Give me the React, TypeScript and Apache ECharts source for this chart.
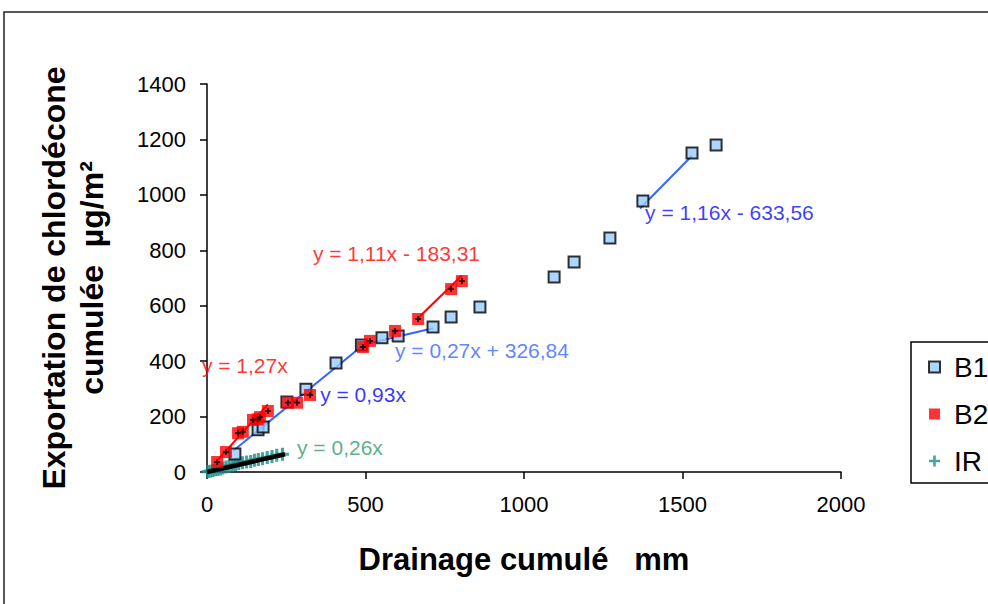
import React, { useEffect, useRef } from "react";
import * as echarts from "echarts";

// ---- data ----
const b1X = [88, 161, 177, 252, 312, 407, 487, 552, 603, 713, 770, 861, 1095, 1158, 1271, 1375, 1530, 1606];
const b1Y = [65, 152, 162, 253, 299, 393, 458, 484, 491, 523, 559, 595, 704, 758, 844, 978, 1151, 1180];

const b2X = [32, 60, 98, 113, 145, 160, 167, 192, 255, 284, 325, 492, 514, 593, 666, 770, 804];
const b2Y = [36, 72, 140, 145, 188, 190, 198, 220, 250, 250, 278, 451, 473, 509, 552, 660, 689];

const irX = [2, 10, 18, 25, 33, 42, 50, 60, 70, 80, 90, 100, 112, 125, 138, 150, 162, 175, 190, 205, 220, 238];
const irY = [1, 3, 5, 8, 9, 11, 14, 18, 21, 24, 27, 31, 33, 36, 38, 42, 45, 48, 52, 56, 60, 64];

// trendline endpoints [x, y]
const b1Trend1 = [[82, 76], [495, 460]];
const b1Trend2 = [[495, 460], [713, 519]];
const b1Trend3 = [[1366, 951], [1530, 1141]];
const b2Trend1 = [[32, 41], [192, 244]];
const b2Trend2 = [[666, 556], [804, 709]];
const irTrend = [[0, 0], [246, 64]];

// trendline equation labels: [x, y, text, color]
const eqLabels: [number, number, string, string][] = [
  [-16, 383, "y = 1,27x", "#ff0000"],
  [357, 278, "y = 0,93x", "#0000ff"],
  [284, 87, "y = 0,26x", "#339966"],
  [593, 440, "y = 0,27x + 326,84", "#3366ff"],
  [1382, 935, "y = 1,16x - 633,56", "#0a0aff"],
  [334, 787, "y = 1,11x - 183,31", "#ff0000"],
];

const xTicks = { min: 0, max: 2000, interval: 500 };
const yTicks = { min: 0, max: 1400, interval: 200 };

const zip = (xs: number[], ys: number[]) => xs.map((x, i) => [x, ys[i]]);

const FONT = "'Liberation Sans', Arial, Helvetica, sans-serif";
const PLUS = "path://M3.8,0H6.2V3.8H10V6.2H6.2V10H3.8V6.2H0V3.8H3.8Z";
const SMALLPLUS = "path://M3.5,0H6.5V3.5H10V6.5H6.5V10H3.5V6.5H0V3.5H3.5Z";

export default function App() {
  const ref = useRef<HTMLDivElement>(null);
  useEffect(() => {
    if (!ref.current) return;
    const chart = echarts.init(ref.current, undefined, { renderer: "svg" });
    const trendLine = (data: number[][], color: string, width: number) => ({
      type: "line",
      data,
      symbol: "none",
      lineStyle: { color, width },
      z: 3,
      silent: true,
    });
    chart.setOption({
      animation: false,
      backgroundColor: "#ffffff",
      textStyle: { fontFamily: FONT },
      grid: { left: 207, right: 147, top: 84, bottom: 132 },
      legend: {
        data: ["B1", "B2", "IR"],
        orient: "vertical",
        left: 911,
        top: 342,
        borderColor: "#000",
        borderWidth: 1.5,
        padding: [11, 20, 8, 17],
        itemGap: 19,
        itemWidth: 11,
        itemHeight: 11,
        textStyle: { fontSize: 28, color: "#000", fontFamily: FONT, padding: [0, 0, 0, 9] },
      },
      xAxis: {
        type: "value",
        ...xTicks,
        name: "Drainage cumulé   mm",
        nameLocation: "middle",
        nameGap: 72,
        nameTextStyle: { fontSize: 31, fontWeight: "bold", color: "#000", fontFamily: FONT },
        splitLine: { show: false },
        axisLine: { show: true, lineStyle: { color: "#000", width: 1.5 } },
        axisTick: { show: true, length: 7, lineStyle: { color: "#000", width: 1.5 } },
        axisLabel: {
          fontSize: 22,
          color: "#000",
          margin: 21,
          fontFamily: FONT,
          formatter: (v: number) => String(v),
        },
      },
      yAxis: {
        type: "value",
        ...yTicks,
        name: "Exportation de chlordécone\ncumulée  µg/m²",
        nameLocation: "middle",
        nameRotate: 90,
        nameGap: 96,
        nameTextStyle: {
          fontSize: 32,
          fontWeight: "bold",
          color: "#000",
          fontFamily: FONT,
          lineHeight: 38,
          align: "center",
        },
        splitLine: { show: false },
        axisLine: { show: true, lineStyle: { color: "#000", width: 1.5 } },
        axisTick: { show: true, length: 7, lineStyle: { color: "#000", width: 1.5 } },
        axisLabel: {
          fontSize: 22,
          color: "#000",
          margin: 21,
          fontFamily: FONT,
          formatter: (v: number) => String(v),
        },
      },
      graphic: [
        {
          type: "rect",
          shape: { x: 4, y: 12, width: 1200, height: 800 },
          style: { fill: "none", stroke: "#222", lineWidth: 1.5 },
          silent: true,
        },
      ],
      series: [
        trendLine(b1Trend1, "#3366ff", 2),
        trendLine(b1Trend2, "#3366ff", 2),
        trendLine(b1Trend3, "#3366ff", 2),
        trendLine(b2Trend1, "#ff0000", 2),
        trendLine(b2Trend2, "#ff0000", 2),
        {
          name: "IR",
          type: "scatter",
          data: zip(irX, irY),
          symbol: PLUS,
          symbolSize: 13,
          itemStyle: { color: "#168f8f" },
          clip: false,
          z: 2,
        },
        trendLine(irTrend, "#000000", 4.5),
        {
          name: "B1",
          type: "scatter",
          data: zip(b1X, b1Y),
          symbol: "rect",
          symbolSize: 11,
          itemStyle: { color: "#99ccff", borderColor: "#000", borderWidth: 2 },
          z: 4,
        },
        {
          name: "B2",
          type: "scatter",
          data: zip(b2X, b2Y),
          symbol: "rect",
          symbolSize: 12,
          itemStyle: { color: "#ff0000" },
          z: 5,
        },
        {
          name: "B2cross",
          type: "scatter",
          data: zip(b2X, b2Y),
          symbol: SMALLPLUS,
          symbolSize: 6,
          itemStyle: { color: "#000" },
          z: 6,
          silent: true,
        },
        {
          name: "eq",
          type: "scatter",
          clip: false,
          symbolSize: 0,
          silent: true,
          z: 7,
          data: eqLabels.map(([x, y, t, c]) => ({
            value: [x, y],
            label: {
              show: true,
              position: "right",
              distance: 0,
              formatter: t,
              color: c,
              fontSize: 21,
              fontFamily: FONT,
            },
          })),
        },
      ],
    });
    return () => chart.dispose();
  }, []);
  return (
    <div
      ref={ref}
      style={{ position: "absolute", left: 0, top: 0, width: 988, height: 604, background: "#fff" }}
    />
  );
}
